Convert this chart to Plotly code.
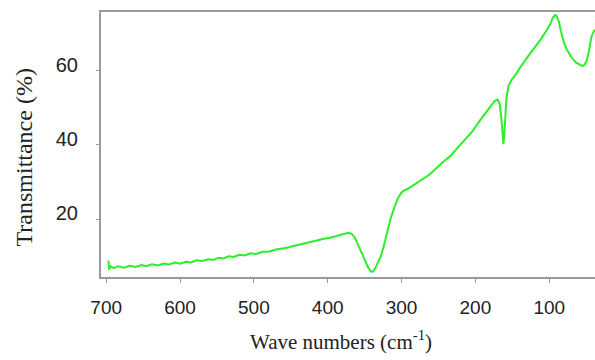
import plotly.graph_objects as go

wavenumber = [697, 696, 694, 690, 684, 676, 668, 660, 652, 646, 638, 630, 622, 615, 607, 600, 592, 585, 578,
              570, 562, 555, 548, 541, 534, 527, 520, 512, 505, 497, 488, 479, 470, 462, 455, 449, 443, 436,
              428, 420, 412, 405, 397, 390, 384, 378, 372, 368, 364, 360, 356, 352, 348, 345, 342, 339, 336,
              332, 328, 324, 320, 315, 310, 305, 300, 296, 292, 286, 280, 270, 262, 255, 245, 234, 220, 205,
              193, 183, 174, 170, 167, 165, 163, 162, 160, 158, 155, 150, 145, 139, 130, 120, 112, 103, 98,
              95, 92, 90, 87, 84, 80, 76, 70, 64, 58, 55, 52, 49, 46, 43, 40, 38]
transmittance = [8.8, 6.4, 7.3, 6.8, 7.3, 6.9, 7.4, 7.1, 7.6, 7.3, 7.8, 7.5, 8.0, 7.8, 8.3, 8.0, 8.5, 8.3, 8.9,
                 8.7, 9.2, 9.0, 9.6, 9.4, 10.0, 9.8, 10.4, 10.2, 10.8, 10.6, 11.2, 11.3, 11.8, 12.0, 12.3, 12.6,
                 12.9, 13.3, 13.6, 14.0, 14.3, 14.7, 15.0, 15.4, 15.7, 15.9, 16.3, 16.1, 15.2, 13.6, 11.8, 10.0,
                 8.2, 6.9, 6.0, 5.8, 6.6, 8.2, 10.0, 12.8, 16.0, 20.0, 23.0, 25.6, 27.2, 27.8, 28.1, 28.9, 29.6,
                 30.8, 32.0, 33.3, 35.2, 37.0, 40.0, 43.4, 46.8, 49.6, 51.8, 52.2, 51.0, 47.5, 43.0, 40.2, 45.5,
                 52.5, 56.0, 57.8, 59.0, 61.0, 63.5, 66.0, 68.3, 71.0, 72.8, 74.3, 75.0, 74.8, 73.2, 70.5, 67.5,
                 65.6, 63.6, 62.2, 61.4, 61.2, 61.6, 62.8, 65.5, 69.0, 70.5, 71.0]

x_ticks = [100, 200, 300, 400, 500, 600, 700]
y_ticks = [20, 40, 60]
x_title = "Wave numbers (cm<sup>-1</sup>)"
y_title = "Transmittance (%)"

W, H = 595, 360
ML, MR, MT, MB = 101, 0, 12, 83

fig = go.Figure()
fig.add_trace(go.Scatter(
    x=wavenumber, y=transmittance, mode="lines",
    line=dict(color="rgb(45,238,45)", width=2),
    showlegend=False, hoverinfo="skip"))

sans = "Liberation Sans, Arial, sans-serif"
serif = "Liberation Serif, Times New Roman, serif"

fig.update_layout(
    width=W, height=H,
    margin=dict(l=ML, r=MR, t=MT, b=MB),
    paper_bgcolor="white", plot_bgcolor="white",
    xaxis=dict(
        range=[707, 38], tickvals=x_ticks, ticktext=[str(v) for v in x_ticks],
        showgrid=False, zeroline=False,
        showline=True, linecolor="#9a9a9a", linewidth=2, mirror=True,
        ticks="outside", ticklen=4, tickcolor="#9a9a9a", tickwidth=1,
        tickfont=dict(family=sans, size=19, color="#222"), ticklabelstandoff=8,
    ),
    yaxis=dict(
        range=[4.4, 75.8], tickvals=y_ticks, ticktext=[str(v) for v in y_ticks],
        showgrid=False, zeroline=False,
        showline=True, linecolor="#9a9a9a", linewidth=2, mirror=False,
        ticks="outside", ticklen=3, tickcolor="#9a9a9a", tickwidth=1,
        tickfont=dict(family=sans, size=20, color="#222"),
        ticklabelstandoff=14, ticklabelshift=-6,
    ),
    annotations=[
        dict(text=x_title, xref="paper", yref="paper",
             x=(341 - ML) / (W - ML - MR), y=-(340 - (H - MB)) / (H - MT - MB),
             xanchor="center", yanchor="middle", showarrow=False,
             font=dict(family=serif, size=21, color="#222")),
        dict(text=y_title, xref="paper", yref="paper",
             x=-(ML - 23) / (W - ML - MR), y=((H - MB) - 157.5) / (H - MT - MB),
             xanchor="center", yanchor="middle", showarrow=False, textangle=-90,
             font=dict(family=serif, size=24, color="#222")),
    ],
)

fig.write_html("out.html")
